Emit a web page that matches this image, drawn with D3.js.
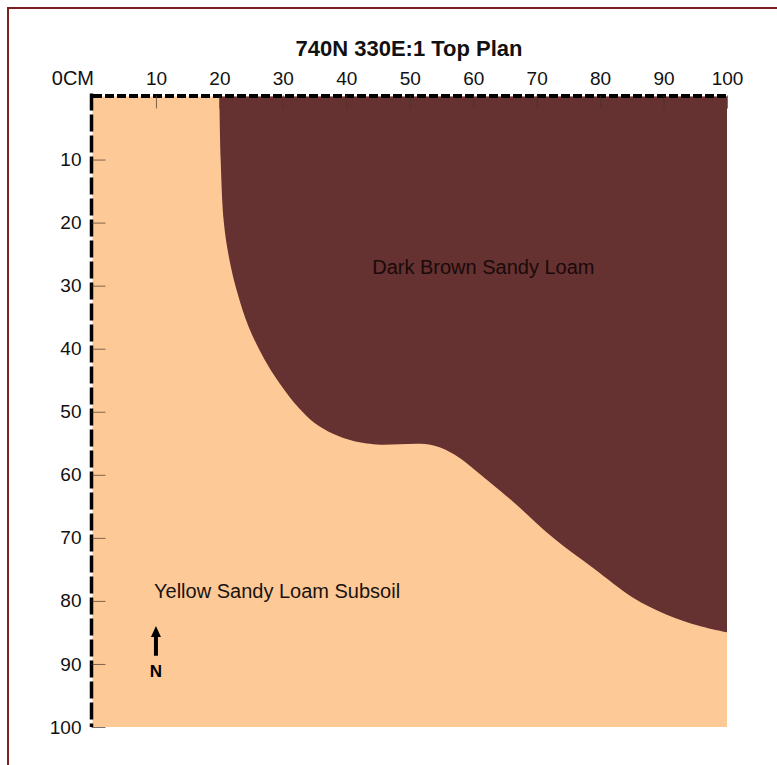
<!DOCTYPE html>
<html>
<head>
<meta charset="utf-8">
<script src="https://cdn.jsdelivr.net/npm/d3@7"></script>
<style>
  html, body { margin: 0; padding: 0; background: #fff; }
  svg { display: block; font-family: "Liberation Sans", Arial, sans-serif; }
</style>
</head>
<body>
<svg id="chart" width="777" height="765"></svg>
<script>
// ---- data ----
const title = "740N 330E:1 Top Plan";
const xTickValues = [0, 10, 20, 30, 40, 50, 60, 70, 80, 90, 100];
const xTickLabels = ["0CM", "10", "20", "30", "40", "50", "60", "70", "80", "90", "100"];
const yTickValues = [10, 20, 30, 40, 50, 60, 70, 80, 90, 100];
const yTickLabels = ["10", "20", "30", "40", "50", "60", "70", "80", "90", "100"];
// boundary between dark brown sandy loam (upper right) and yellow subsoil (cm)
const boundaryX = [20, 20.2, 20.7, 21.6, 22.8, 24.6, 27, 29.5, 32.6, 35, 37.9, 41, 44.8, 53.6, 57.4, 60.6, 66.2, 72.6, 78.9, 85.2, 90.5, 95.7, 100];
const boundaryY = [0, 10, 20, 26, 31, 36.5, 41.5, 45.5, 49.5, 51.8, 53.5, 54.6, 55.2, 55.3, 57, 59.5, 64.2, 70, 74.8, 79.5, 82.2, 84, 85];
const regionLabels = ["Dark Brown Sandy Loam", "Yellow Sandy Loam Subsoil"];
const regionLabelX = [61.6, 9.7];
const regionLabelY = [28.2, 79.6];
const northX = 10;
const northY = [84, 88.7];

// ---- layout ----
const svg = d3.select("#chart");
const x = d3.scaleLinear().domain([0, 100]).range([92.5, 727]);
const y = d3.scaleLinear().domain([0, 100]).range([96.5, 727]);

// frame
svg.append("rect")
  .attr("x", 8).attr("y", 8).attr("width", 780).attr("height", 800)
  .attr("fill", "none").attr("stroke", "#7d1f1f").attr("stroke-width", 2);

// peach background of the plan
svg.append("rect")
  .attr("x", x(0)).attr("y", y(0))
  .attr("width", x(100) - x(0)).attr("height", y(100) - y(0))
  .attr("fill", "#fdca97");

// dark region
const pts = boundaryX.map((d, i) => [x(d), y(boundaryY[i])]);
const curve = d3.line().curve(d3.curveCatmullRom.alpha(0.5))(pts);
svg.append("path")
  .attr("d", curve + `L${x(100)},${y(0)}Z`)
  .attr("fill", "#653131");

// axes
const xAxis = d3.axisTop(x).tickValues(xTickValues)
  .tickFormat((d, i) => xTickLabels[i]).tickSize(-13).tickSizeOuter(0).tickPadding(11);
const gx = svg.append("g").attr("transform", `translate(0,${y(0) - 1})`).call(xAxis);
gx.select(".domain").attr("stroke", "#000").attr("stroke-width", 4).attr("stroke-dasharray", "9,3");
gx.selectAll(".tick line").attr("stroke", "#4a3528").attr("stroke-width", 1).attr("opacity", 0.7);
gx.selectAll(".tick text").attr("font-size", 19).attr("fill", "#111")
  .attr("font-family", "Liberation Sans, Arial, sans-serif");
gx.selectAll(".tick").filter(d => d === 0).select("text").attr("text-anchor", "end").attr("x", 1)
  .attr("font-size", 20);
gx.selectAll(".tick").filter(d => d === 0).select("line").remove();

const yAxis = d3.axisLeft(y).tickValues(yTickValues)
  .tickFormat((d, i) => yTickLabels[i]).tickSize(-14).tickSizeOuter(0).tickPadding(10);
const gy = svg.append("g").attr("transform", `translate(${x(0) - 1},0)`).call(yAxis);
gy.select(".domain").attr("d", `M0,${y(0) - 3}V${y(100)}`)
  .attr("stroke", "#000").attr("stroke-width", 3.5).attr("stroke-dasharray", "17,4");
gy.selectAll(".tick line").attr("stroke", "#4a3528").attr("stroke-width", 1).attr("opacity", 0.7);
gy.selectAll(".tick text").attr("font-size", 19).attr("fill", "#111")
  .attr("font-family", "Liberation Sans, Arial, sans-serif");

// title
svg.append("text")
  .attr("x", 409).attr("y", 56)
  .attr("text-anchor", "middle")
  .attr("font-size", 22).attr("font-weight", "bold").attr("fill", "#111")
  .text(title);

// region labels
svg.append("text")
  .attr("x", x(regionLabelX[0])).attr("y", y(regionLabelY[0]))
  .attr("text-anchor", "middle").attr("font-size", 20).attr("fill", "#1a0a0a")
  .text(regionLabels[0]);
svg.append("text")
  .attr("x", x(regionLabelX[1])).attr("y", y(regionLabelY[1]))
  .attr("text-anchor", "start").attr("font-size", 20).attr("fill", "#1a1210")
  .text(regionLabels[1]);

// north arrow
const nx = x(northX);
const ny0 = y(northY[0]), ny1 = y(northY[1]);
svg.append("line")
  .attr("x1", nx).attr("x2", nx).attr("y1", ny0 + 8).attr("y2", ny1)
  .attr("stroke", "#000").attr("stroke-width", 4);
svg.append("path")
  .attr("d", `M${nx},${ny0}L${nx - 5},${ny0 + 11}L${nx + 5},${ny0 + 11}Z`)
  .attr("fill", "#000");
svg.append("text")
  .attr("x", nx).attr("y", ny1 + 21)
  .attr("text-anchor", "middle").attr("font-size", 17).attr("font-weight", "bold").attr("fill", "#000")
  .text("N");
</script>
</body>
</html>
